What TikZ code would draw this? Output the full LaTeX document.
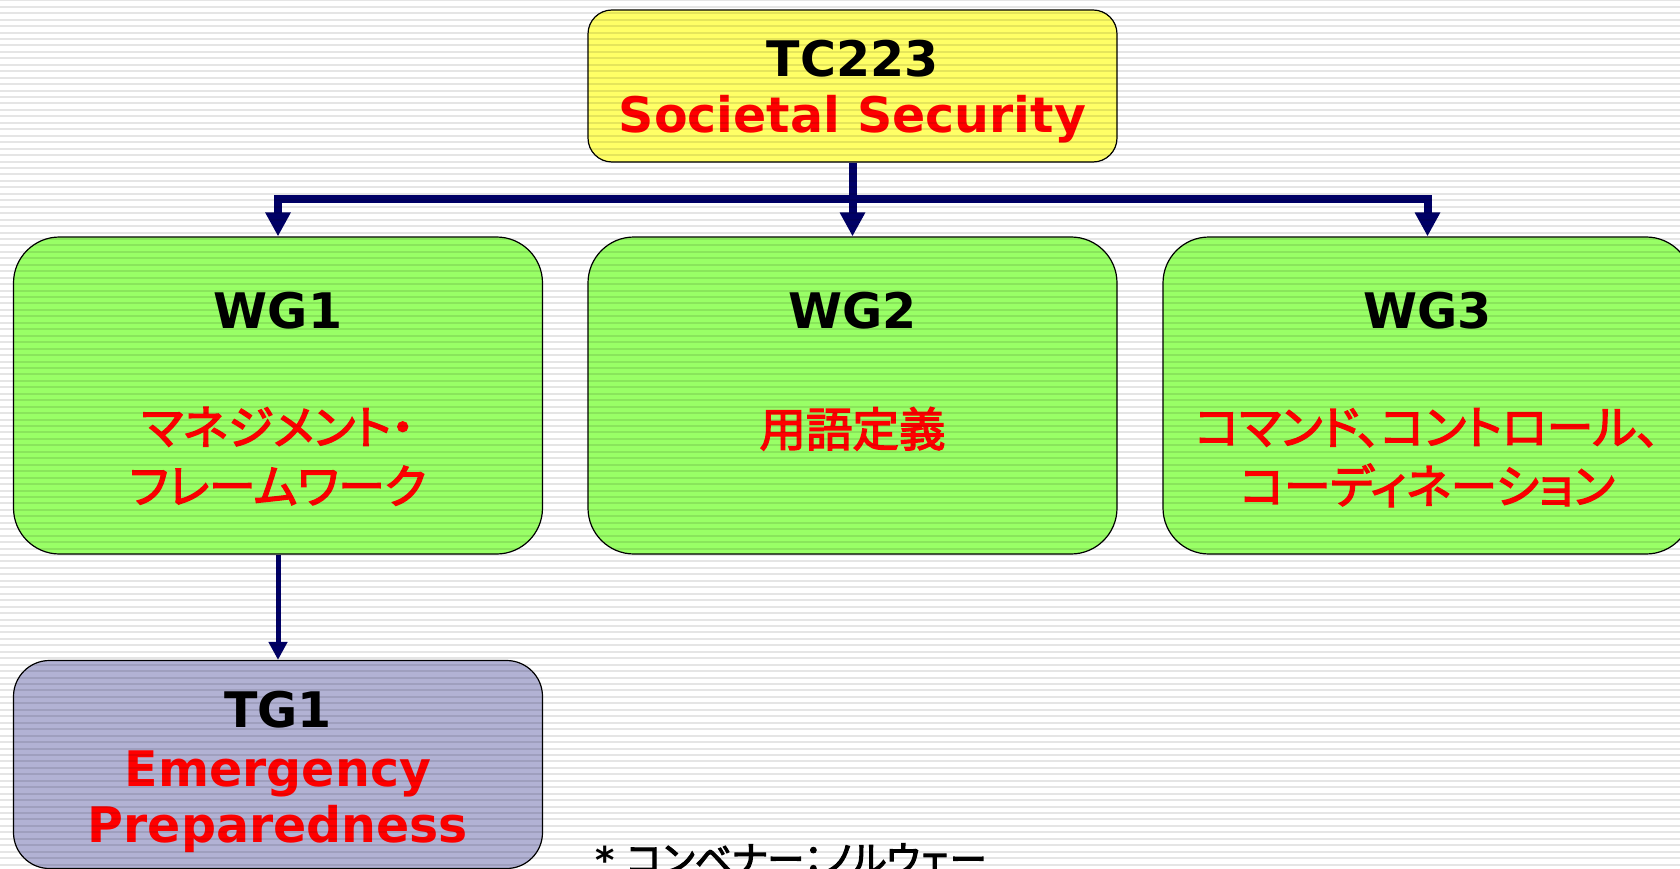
\documentclass[tikz,border=0pt]{standalone}
\usepackage{fontspec}
\setmainfont{DejaVu Sans}
\newfontfamily\jpfont[RawFeature=+palt,FakeBold=3]{Noto Sans CJK JP}
\usepackage{xcolor}
\usetikzlibrary{positioning,arrows.meta,calc}
\definecolor{tcyellow}{RGB}{255,255,102}
\definecolor{wggreen}{RGB}{153,255,102}
\definecolor{tglilac}{RGB}{178,178,212}
\definecolor{linknavy}{RGB}{0,0,102}
\newcommand{\jp}[1]{{\jpfont #1}}

\begin{document}
\begin{tikzpicture}[x=1pt,y=-1pt,
    groupbox/.style={draw=black,line width=1.2pt,minimum width=529pt,inner sep=0pt},
    wgbox/.style={groupbox,fill=wggreen,minimum height=317pt,rounded corners=46pt},
    title/.style={anchor=base,font=\bfseries\fontsize{49}{58}\selectfont},
    subtitle/.style={title,text=red},
    jpline/.style={anchor=base,inner sep=0pt,text=red,font=\jpfont\fontsize{46.5}{58}\selectfont},
    link/.style={draw=linknavy,line width=8pt,-{Triangle[length=24pt,width=24pt]}},
    sublink/.style={draw=linknavy,line width=5pt,-{Triangle[length=18pt,width=18pt]}},
    stripe/.style={black,opacity=0.1,line width=2pt}]
    \useasboundingbox (0,0) rectangle (1680,869);
    \fill[white] (0,0) rectangle (1680,869);

    % Draw boxes for the committee and its groups
    \node[groupbox,fill=tcyellow,minimum height=152pt,rounded corners=24pt] (tc) at (852.5,86) {};
    \node[wgbox] (wg1) at (278,395.5) {};
    \node[wgbox] (wg2) at (852.5,395.5) {};
    \node[wgbox] (wg3) at (1427.5,395.5) {};
    \node[groupbox,fill=tglilac,minimum height=208pt,rounded corners=36pt] (tg1) at (278,764.5) {};

    % Connectors
    \coordinate (bus) at (852.5,199);
    \draw[link] (tc.south) -- (wg2.north);
    \draw[link] (bus) -| (wg1.north);
    \draw[link] (bus) -| (wg3.north);
    \draw[sublink] (wg1.south) -- (tg1.north);

    % Labels
    \node[title] (tcname) at ($(tc.north)+(0,67)$) {TC223};
    \node[subtitle] (tctopic) at ($(tc.north)+(0,123)$) {Societal Security};

    \node[title] (wg1name) at ($(wg1.north)+(0,92)$) {WG1};
    \node[jpline] (wg1topa) at ($(wg1.north)+(0,208)$) {マネジメント・};
    \node[jpline] (wg1topb) at ($(wg1.north)+(0,267)$) {フレームワーク};

    \node[title] (wg2name) at ($(wg2.north)+(0,92)$) {WG2};
    \node[jpline] (wg2top) at ($(wg2.north)+(0,210)$) {用語定義};

    \node[title] (wg3name) at ($(wg3.north)+(0,92)$) {WG3};
    \node[jpline] (wg3topa) at ($(wg3.north)+(0,208)$) {コマンド、コントロール、};
    \node[jpline] (wg3topb) at ($(wg3.north)+(0,267)$) {コーディネーション};

    \node[title] (tg1name) at ($(tg1.north)+(0,67.5)$) {TG1};
    \node[subtitle] (tg1topa) at ($(tg1.north)+(0,126.5)$) {Emergency};
    \node[subtitle] (tg1topb) at ($(tg1.north)+(0,182.5)$) {Preparedness};

    \node[anchor=base west,font=\fontsize{37}{44}\selectfont] (note) at (592,873) {{\bfseries *} \jp{コンベナー：ノルウェー}};

    % Background stripes
    \foreach \k in {0,...,134}
        \draw[stripe] (0,\k*6.45+0.3) -- (1680,\k*6.45+0.3);
\end{tikzpicture}
\end{document}
